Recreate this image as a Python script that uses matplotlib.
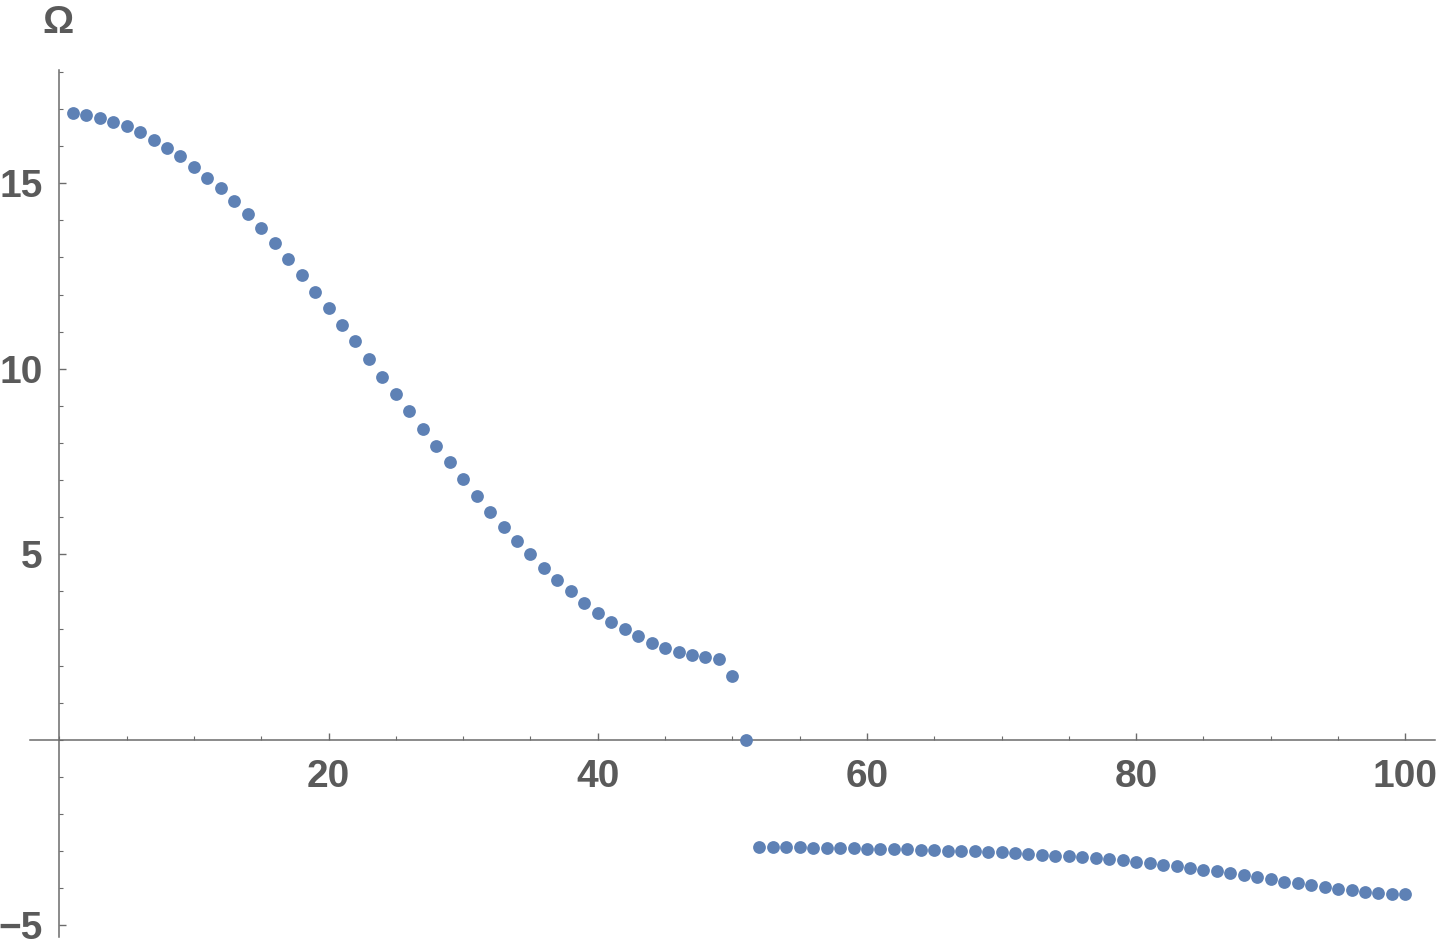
import numpy as np
import matplotlib
matplotlib.use('Agg')
import matplotlib.pyplot as plt
from matplotlib.ticker import MultipleLocator, FixedLocator

# Data (index n = 1..100)
n_vals = list(range(1, 101))
omega_vals = [
    16.90, 16.85, 16.77, 16.65, 16.53, 16.37, 16.17, 15.95, 15.72, 15.44,
    15.15, 14.86, 14.51, 14.16, 13.78, 13.38, 12.97, 12.53, 12.08, 11.65,
    11.19, 10.74, 10.26, 9.79, 9.32, 8.85, 8.39, 7.91, 7.48, 7.02,
    6.58, 6.15, 5.74, 5.36, 5.00, 4.64, 4.30, 4.01, 3.70, 3.43,
    3.19, 2.98, 2.79, 2.62, 2.49, 2.36, 2.28, 2.24, 2.17, 1.71,
    0.00, -2.88, -2.88, -2.89, -2.89, -2.90, -2.91, -2.92, -2.92, -2.93,
    -2.93, -2.95, -2.95, -2.96, -2.97, -2.98, -2.99, -3.00, -3.02, -3.03,
    -3.05, -3.07, -3.09, -3.12, -3.14, -3.16, -3.19, -3.22, -3.24, -3.30,
    -3.32, -3.38, -3.41, -3.46, -3.51, -3.54, -3.59, -3.65, -3.70, -3.76,
    -3.83, -3.86, -3.92, -3.97, -4.02, -4.05, -4.10, -4.13, -4.14, -4.16,
]

axis_gray = '#6b6b6b'
text_gray = '#5a5a5a'
dot_blue = '#5E81B5'

plt.rcParams['font.family'] = ['Liberation Sans', 'DejaVu Sans']

fig = plt.figure(figsize=(14.4, 9.49), dpi=100)
ax = fig.add_axes([30/1440, 1 - 937/949, (1435 - 30)/1440, (937 - 70)/949])

ax.plot(n_vals, omega_vals, 'o', ms=9.2, color=dot_blue, mec='none', clip_on=False, zorder=3)

ax.set_xlim(-2.18, 102.2)
ax.set_ylim(-5.31, 18.05)

# Mathematica-style axes crossing at origin
for s in ['top', 'right']:
    ax.spines[s].set_visible(False)
ax.spines['left'].set_position(('data', 0))
ax.spines['bottom'].set_position(('data', 0))
for s in ['left', 'bottom']:
    ax.spines[s].set_color(axis_gray)
    ax.spines[s].set_linewidth(1.1)

ax.xaxis.set_major_locator(FixedLocator([20, 40, 60, 80, 100]))
ax.xaxis.set_minor_locator(MultipleLocator(5))
ax.yaxis.set_major_locator(FixedLocator([-5, 5, 10, 15]))
ax.yaxis.set_minor_locator(MultipleLocator(1))

ax.tick_params(axis='both', which='major', direction='in', length=5, width=1,
               color=axis_gray, labelsize=28, labelcolor=text_gray)
ax.tick_params(axis='both', which='minor', direction='in', length=3, width=0.8,
               color=axis_gray)
ax.tick_params(axis='x', which='major', pad=14)
ax.tick_params(axis='y', which='major', pad=12)

ax.set_xticklabels(['20', '40', '60', '80', '100'], fontweight='bold')
ax.set_yticklabels(['\u22125', '5', '10', '15'], fontweight='bold')

fig.text(58/1440, 1 - 23/949, '\u03a9', ha='center', va='center',
         fontsize=28, fontweight='bold', color=text_gray)

fig.savefig('out.png', dpi=100)
